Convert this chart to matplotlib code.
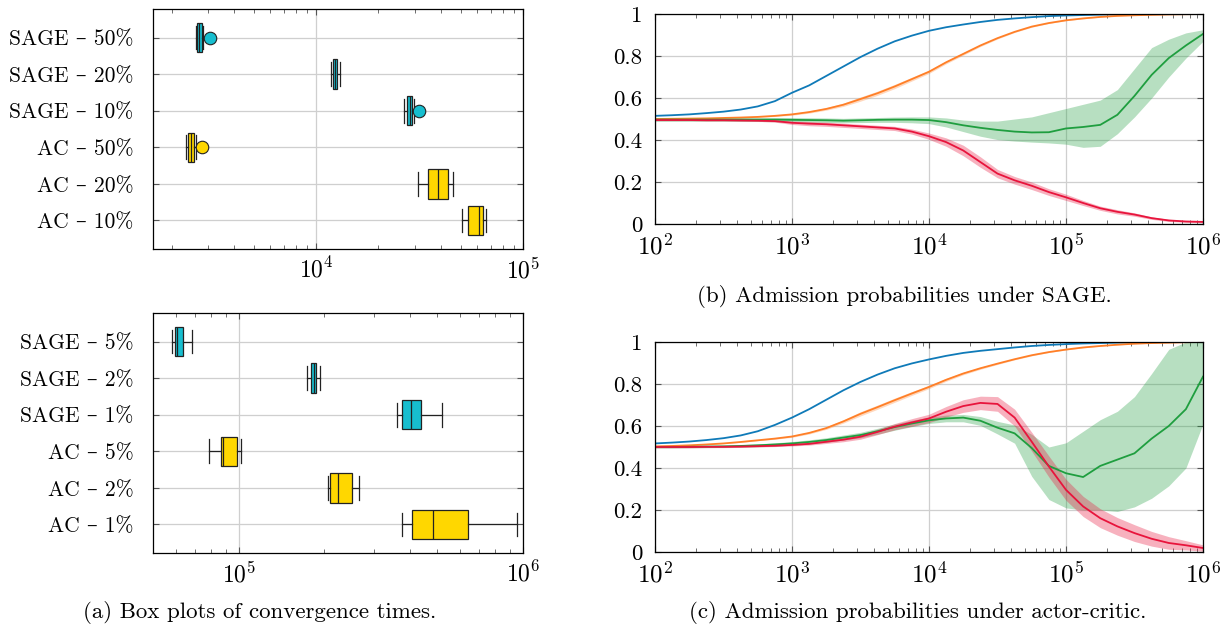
import numpy as np
import matplotlib
matplotlib.use("Agg")
import matplotlib.pyplot as plt
from matplotlib.ticker import LogLocator, FixedLocator, FixedFormatter, NullFormatter

plt.rcParams["font.family"] = ["cmr10", "DejaVu Serif"]
plt.rcParams["mathtext.fontset"] = "cm"
plt.rcParams["axes.formatter.use_mathtext"] = True

# ---- box plots: convergence times ----
TOP_LABELS = ["SAGE – 50%", "SAGE – 20%", "SAGE – 10%", "AC – 50%", "AC – 20%", "AC – 10%"]
TOP_LO = [2625, 11780, 26670, 2354, 31030, 50620]
TOP_Q1 = [2655, 12020, 27630, 2412, 34680, 54410]
TOP_MED = [2705, 12300, 28410, 2491, 38610, 61100]
TOP_Q3 = [2806, 12650, 29090, 2571, 43150, 63830]
TOP_HI = [2840, 13010, 29590, 2634, 45830, 66130]
TOP_FLIERS = [[3070], [], [31390], [2806], [], []]

BOT_LABELS = ["SAGE – 5%", "SAGE – 2%", "SAGE – 1%", "AC – 5%", "AC – 2%", "AC – 1%"]
BOT_LO = [58290, 174100, 360600, 78900, 206000, 374500]
BOT_Q1 = [59640, 180300, 374500, 86550, 210100, 408300]
BOT_MED = [60500, 183900, 402500, 88330, 224500, 481500]
BOT_Q3 = [63730, 187700, 436500, 98560, 249800, 639000]
BOT_HI = [68480, 193800, 519000, 102300, 264700, 949300]
BOT_FLIERS = [[], [], [], [], [], []]

BOX_COLORS = ["#17becf", "#17becf", "#17becf", "#ffd700", "#ffd700", "#ffd700"]

# ---- admission probabilities (time exponent grid) ----
LOG_T = [2.0, 2.125, 2.25, 2.375, 2.5, 2.625, 2.75, 2.875, 3.0, 3.125, 3.25,
         3.375, 3.5, 3.625, 3.75, 3.875, 4.0, 4.125, 4.25, 4.375, 4.5, 4.625,
         4.75, 4.875, 5.0, 5.125, 5.25, 5.375, 5.5, 5.625, 5.75, 5.875, 6.0]

SAGE_BLUE = [0.515, 0.518, 0.522, 0.528, 0.535, 0.545, 0.560, 0.585, 0.625, 0.660, 0.705,
             0.750, 0.795, 0.835, 0.870, 0.897, 0.920, 0.937, 0.950, 0.962, 0.972, 0.979,
             0.985, 0.990, 0.993, 0.995, 0.997, 0.998, 0.999, 1.0, 1.0, 1.0, 1.0]
SAGE_ORANGE = [0.500, 0.501, 0.502, 0.503, 0.505, 0.507, 0.510, 0.515, 0.522, 0.533, 0.548,
               0.568, 0.595, 0.623, 0.655, 0.690, 0.725, 0.770, 0.810, 0.850, 0.885, 0.915,
               0.940, 0.957, 0.970, 0.979, 0.986, 0.991, 0.994, 0.996, 0.998, 0.999, 1.0]
ORANGE_SPREAD = [0.001, 0.001, 0.001, 0.001, 0.001, 0.002, 0.002, 0.003, 0.004, 0.005, 0.006,
                 0.008, 0.010, 0.010, 0.010, 0.009, 0.008, 0.007, 0.006, 0.005, 0.004, 0.003,
                 0.003, 0.002, 0.002, 0.002, 0.001, 0.001, 0.001, 0.001, 0.001, 0.001, 0.001]
SAGE_GREEN = [0.497, 0.497, 0.497, 0.497, 0.497, 0.497, 0.497, 0.497, 0.496, 0.495, 0.494,
              0.492, 0.494, 0.496, 0.497, 0.497, 0.495, 0.485, 0.470, 0.458, 0.448, 0.440,
              0.436, 0.437, 0.455, 0.462, 0.472, 0.520, 0.610, 0.710, 0.790, 0.850, 0.905]
SAGE_GREEN_LO = [0.489, 0.489, 0.489, 0.489, 0.489, 0.488, 0.488, 0.487, 0.486, 0.485, 0.484,
                 0.482, 0.483, 0.484, 0.484, 0.482, 0.478, 0.462, 0.440, 0.418, 0.402, 0.395,
                 0.390, 0.386, 0.380, 0.365, 0.370, 0.430, 0.510, 0.600, 0.700, 0.790, 0.870]
SAGE_GREEN_HI = [0.505, 0.505, 0.505, 0.505, 0.505, 0.506, 0.506, 0.507, 0.507, 0.506, 0.505,
                 0.503, 0.505, 0.507, 0.509, 0.510, 0.510, 0.505, 0.495, 0.490, 0.490, 0.500,
                 0.510, 0.530, 0.550, 0.570, 0.590, 0.640, 0.740, 0.840, 0.880, 0.910, 0.925]
SAGE_RED = [0.495, 0.495, 0.495, 0.494, 0.494, 0.493, 0.492, 0.490, 0.482, 0.478, 0.475,
            0.470, 0.465, 0.460, 0.455, 0.440, 0.418, 0.390, 0.350, 0.295, 0.240, 0.208,
            0.182, 0.152, 0.127, 0.100, 0.075, 0.058, 0.045, 0.028, 0.017, 0.012, 0.010]
SAGE_RED_SPREAD = [0.003, 0.003, 0.003, 0.003, 0.003, 0.003, 0.003, 0.005, 0.008, 0.010, 0.010,
                   0.010, 0.010, 0.010, 0.010, 0.012, 0.015, 0.020, 0.025, 0.025, 0.020, 0.018,
                   0.018, 0.016, 0.015, 0.012, 0.010, 0.010, 0.008, 0.006, 0.005, 0.004, 0.004]

AC_BLUE = [0.517, 0.521, 0.526, 0.533, 0.542, 0.555, 0.575, 0.605, 0.640, 0.680, 0.725,
           0.770, 0.810, 0.845, 0.875, 0.898, 0.917, 0.934, 0.948, 0.958, 0.966, 0.974,
           0.981, 0.986, 0.990, 0.993, 0.995, 0.997, 0.998, 0.999, 1.0, 1.0, 1.0]
AC_ORANGE = [0.503, 0.505, 0.508, 0.512, 0.517, 0.524, 0.532, 0.540, 0.550, 0.567, 0.590,
             0.622, 0.658, 0.690, 0.723, 0.755, 0.786, 0.820, 0.850, 0.875, 0.897, 0.918,
             0.937, 0.952, 0.964, 0.974, 0.981, 0.987, 0.992, 0.995, 0.997, 0.999, 1.0]
AC_GREEN = [0.500, 0.500, 0.501, 0.502, 0.503, 0.505, 0.508, 0.512, 0.517, 0.524, 0.533,
            0.545, 0.557, 0.575, 0.595, 0.612, 0.627, 0.636, 0.640, 0.625, 0.592, 0.565,
            0.495, 0.410, 0.375, 0.357, 0.410, 0.440, 0.470, 0.540, 0.600, 0.680, 0.835]
AC_GREEN_LO = [0.495, 0.495, 0.496, 0.497, 0.498, 0.499, 0.501, 0.504, 0.508, 0.514, 0.522,
               0.533, 0.544, 0.561, 0.580, 0.597, 0.612, 0.620, 0.620, 0.603, 0.562, 0.518,
               0.360, 0.250, 0.210, 0.200, 0.200, 0.193, 0.215, 0.256, 0.315, 0.400, 0.610]
AC_GREEN_HI = [0.505, 0.505, 0.506, 0.507, 0.508, 0.511, 0.515, 0.520, 0.526, 0.534, 0.544,
               0.557, 0.570, 0.589, 0.610, 0.627, 0.642, 0.652, 0.655, 0.645, 0.622, 0.605,
               0.560, 0.500, 0.520, 0.575, 0.630, 0.670, 0.740, 0.850, 0.965, 1.0, 1.0]
AC_RED = [0.500, 0.500, 0.500, 0.501, 0.501, 0.502, 0.504, 0.506, 0.510, 0.515, 0.525,
          0.535, 0.549, 0.572, 0.597, 0.617, 0.636, 0.668, 0.695, 0.710, 0.705, 0.640,
          0.525, 0.407, 0.296, 0.217, 0.161, 0.122, 0.090, 0.063, 0.043, 0.032, 0.019]
AC_RED_SPREAD = [0.004, 0.004, 0.004, 0.004, 0.004, 0.004, 0.004, 0.004, 0.005, 0.006, 0.008,
                 0.010, 0.012, 0.013, 0.015, 0.018, 0.020, 0.025, 0.030, 0.032, 0.035, 0.040,
                 0.045, 0.050, 0.050, 0.048, 0.045, 0.042, 0.040, 0.035, 0.030, 0.022, 0.015]

BLUE = "#0f7ab8"
ORANGE = "#ff7f27"
GREEN = "#1f9e3f"
RED = "#e8143c"
GRID = "#cfcfcf"

W, H = 1227, 631


def px_axes(fig, x0, y0, x1, y1):
    return fig.add_axes([x0 / W, 1 - y1 / H, (x1 - x0) / W, (y1 - y0) / H])


def style_axes(ax, size):
    for s in ax.spines.values():
        s.set_linewidth(0.9)
    ax.set_axisbelow(True)
    ax.tick_params(which="both", direction="in", top=True, right=True, labelsize=size)
    ax.tick_params(which="major", length=4.5, width=0.8, color="#555555")
    ax.tick_params(which="minor", length=3, width=0.6, color="#555555")
    ax.xaxis.set_minor_locator(LogLocator(base=10, subs=np.arange(2, 10)))
    ax.xaxis.set_minor_formatter(NullFormatter())


def box_panel(ax, labels, lo, q1, med, q3, hi, fliers, xlim):
    stats = []
    for i in range(len(labels)):
        stats.append({"whislo": lo[i], "q1": q1[i], "med": med[i], "q3": q3[i],
                      "whishi": hi[i], "fliers": fliers[i]})
    pos = list(range(len(labels), 0, -1))
    bp = ax.bxp(stats, positions=pos, vert=False, widths=0.8, capwidths=0.65,
                patch_artist=True, manage_ticks=False,
                boxprops=dict(edgecolor="#222222", linewidth=0.9),
                medianprops=dict(color="#222222", linewidth=0.9),
                whiskerprops=dict(color="#222222", linewidth=0.9),
                capprops=dict(color="#222222", linewidth=0.9))
    for patch, c in zip(bp["boxes"], BOX_COLORS):
        patch.set_facecolor(c)
    for fl, c in zip(bp["fliers"], BOX_COLORS):
        fl.set(marker="o", markerfacecolor=c, markeredgecolor="#222222",
               markersize=9, markeredgewidth=0.8)
    ax.set_xscale("log")
    style_axes(ax, 15.5)
    ax.tick_params(axis="x", labelsize=17, pad=6)
    ax.tick_params(axis="y", pad=14)
    ax.set_xlim(*xlim)
    ax.set_ylim(0.22, 6.78)
    ax.yaxis.set_major_locator(FixedLocator(pos))
    ax.yaxis.set_major_formatter(FixedFormatter(labels))
    ax.grid(True, which="major", color=GRID, linewidth=0.9)


def prob_panel(ax, blue, orange, green, green_lo, green_hi, red, red_spread):
    t = 10.0 ** np.array(LOG_T)
    orange = np.array(orange)
    osp = np.array(ORANGE_SPREAD)
    red = np.array(red)
    rsp = np.array(red_spread)
    ax.fill_between(t, orange - osp, orange + osp, color=ORANGE, alpha=0.3, lw=0)
    ax.fill_between(t, green_lo, green_hi, color=GREEN, alpha=0.32, lw=0)
    ax.fill_between(t, red - rsp, red + rsp, color=RED, alpha=0.33, lw=0)
    ax.plot(t, blue, color=BLUE, lw=1.3)
    ax.plot(t, orange, color=ORANGE, lw=1.3)
    ax.plot(t, green, color=GREEN, lw=1.3)
    ax.plot(t, red, color=RED, lw=1.3)
    ax.set_xscale("log")
    style_axes(ax, 16.5)
    ax.tick_params(axis="x", labelsize=18, pad=7)
    ax.tick_params(axis="y", pad=9)
    ax.set_xlim(1e2, 1e6)
    ax.set_ylim(0, 1)
    ax.xaxis.set_major_locator(LogLocator(base=10, numticks=10))
    ax.yaxis.set_major_locator(FixedLocator([0, 0.2, 0.4, 0.6, 0.8, 1.0]))
    ax.yaxis.set_major_formatter(FixedFormatter(["0", "0.2", "0.4", "0.6", "0.8", "1"]))
    ax.grid(True, which="major", color=GRID, linewidth=0.9)


fig = plt.figure(figsize=(W / 100, H / 100), dpi=100)

ax_a1 = px_axes(fig, 153, 9, 523, 249)
box_panel(ax_a1, TOP_LABELS, TOP_LO, TOP_Q1, TOP_MED, TOP_Q3, TOP_HI, TOP_FLIERS, (1625, 1e5))

ax_a2 = px_axes(fig, 153, 313, 523, 553)
box_panel(ax_a2, BOT_LABELS, BOT_LO, BOT_Q1, BOT_MED, BOT_Q3, BOT_HI, BOT_FLIERS, (5.0e4, 1e6))

ax_b = px_axes(fig, 655, 14, 1203, 224)
prob_panel(ax_b, SAGE_BLUE, SAGE_ORANGE, SAGE_GREEN, SAGE_GREEN_LO, SAGE_GREEN_HI,
           SAGE_RED, SAGE_RED_SPREAD)

ax_c = px_axes(fig, 655, 342, 1203, 552)
prob_panel(ax_c, AC_BLUE, AC_ORANGE, AC_GREEN, AC_GREEN_LO, AC_GREEN_HI,
           AC_RED, AC_RED_SPREAD)

fig.text(260 / W, 1 - 612 / H, "(a) Box plots of convergence times.", ha="center", va="center", fontsize=16.5)
fig.text(904 / W, 1 - 296 / H, "(b) Admission probabilities under SAGE.", ha="center", va="center", fontsize=16.5)
fig.text(918 / W, 1 - 613 / H, "(c) Admission probabilities under actor-critic.", ha="center", va="center", fontsize=16.5)

fig.savefig("out.png", dpi=100)
